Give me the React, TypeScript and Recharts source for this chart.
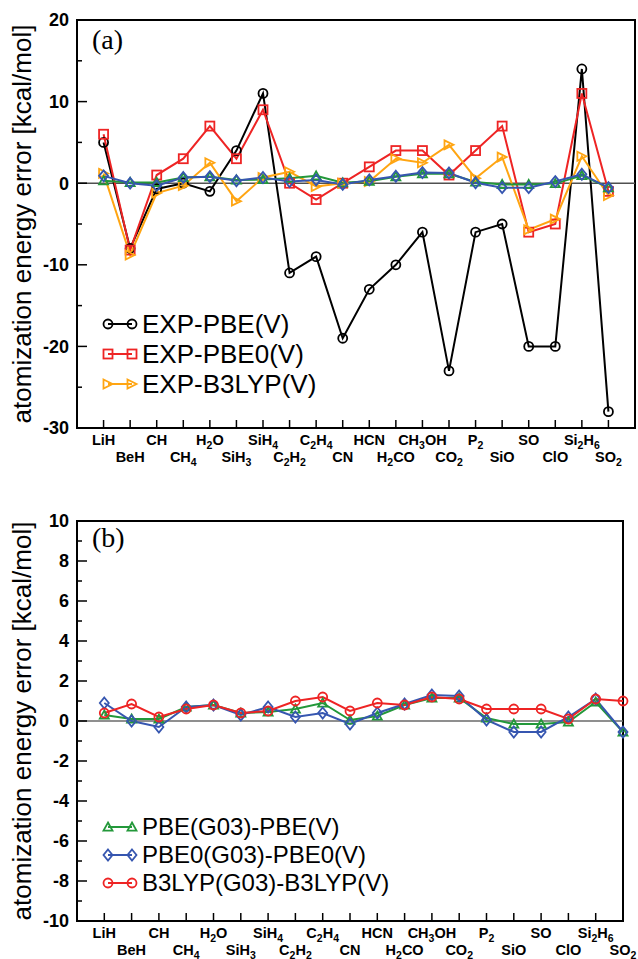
import React from 'react';
import { LineChart, Line, XAxis, YAxis, ReferenceLine, ReferenceArea, Legend } from 'recharts';

const molecules = [
  'LiH', 'BeH', 'CH', 'CH4', 'H2O', 'SiH3', 'SiH4', 'C2H2', 'C2H4', 'CN',
  'HCN', 'H2CO', 'CH3OH', 'CO2', 'P2', 'SiO', 'SO', 'ClO', 'Si2H6', 'SO2',
];

// panel (a): experiment minus VASP results, kcal/mol
const expPbe = [5, -8, -0.7, 0, -1, 4, 11, -11, -9, -19, -13, -10, -6, -23, -6, -5, -20, -20, 14, -28];
const expPbe0 = [6, -8.2, 1, 3, 7, 3, 9, 0, -2, 0, 2, 4, 4, 1, 4, 7, -6, -5, 11, -1];
const expB3lyp = [1.2, -8.8, -1.2, -0.3, 2.5, -2.2, 0.7, 1.4, -0.4, 0, 0.2, 3, 2.5, 4.7, 0.6, 3.2, -5.7, -4.4, 3.3, -1.5];

// panel (b): Gaussian03 minus VASP results, kcal/mol
const pbeG03 = [0.3, 0.1, 0.1, 0.7, 0.8, 0.4, 0.45, 0.6, 0.9, 0.05, 0.25, 0.8, 1.15, 1.15, 0.15, -0.15, -0.15, -0.05, 0.95, -0.55];
const pbe0G03 = [0.9, 0, -0.3, 0.7, 0.8, 0.3, 0.7, 0.2, 0.4, -0.15, 0.4, 0.85, 1.3, 1.25, 0.05, -0.55, -0.55, 0.2, 1.1, -0.55];
const b3lypG03 = [0.4, 0.85, 0.2, 0.6, 0.8, 0.4, 0.5, 1.0, 1.2, 0.5, 0.9, 0.8, 1.2, 1.1, 0.6, 0.6, 0.6, 0.1, 1.1, 1.0];

const topTicks = [-30, -25, -20, -15, -10, -5, 0, 5, 10, 15, 20];
const bottomTicks = [-10, -9, -8, -7, -6, -5, -4, -3, -2, -1, 0, 1, 2, 3, 4, 5, 6, 7, 8, 9, 10];
const moleculeTicks = molecules.map((_, i) => i + 1);

const rows = molecules.map((name, i) => ({
  pos: i + 1,
  name,
  expPbe: expPbe[i],
  expPbe0: expPbe0[i],
  expB3lyp: expB3lyp[i],
  pbeG03: pbeG03[i],
  pbe0G03: pbe0G03[i],
  b3lypG03: b3lypG03[i],
}));

const SANS = '"Liberation Sans", Arial, Helvetica, sans-serif';
const SERIF = '"Liberation Serif", "Times New Roman", serif';

const BLACK = '#000000';
const RED = '#ee2424';
const ORANGE = '#ffa512';
const GREEN = '#23983a';
const BLUE = '#3656b0';

type Shape = 'circle' | 'square' | 'triRight' | 'triUp' | 'diamond';

function Marker({ shape, cx, cy, color, size = 9 }: { shape: Shape; cx: number; cy: number; color: string; size?: number }) {
  const h = size / 2;
  const common = { fill: 'none', stroke: color, strokeWidth: 1.8 };
  if (cx == null || cy == null) return null;
  switch (shape) {
    case 'circle':
      return <circle cx={cx} cy={cy} r={h} {...common} />;
    case 'square':
      return <rect x={cx - h} y={cy - h} width={size} height={size} {...common} />;
    case 'triRight':
      return <polygon points={`${cx - h},${cy - h} ${cx + h},${cy} ${cx - h},${cy + h}`} {...common} />;
    case 'triUp':
      return <polygon points={`${cx},${cy - h} ${cx + h},${cy + h * 0.8} ${cx - h},${cy + h * 0.8}`} {...common} />;
    default:
      return <polygon points={`${cx},${cy - h - 1} ${cx + h},${cy} ${cx},${cy + h + 1} ${cx - h},${cy}`} {...common} />;
  }
}

const makeDot = (shape: Shape, color: string) => (p: any) => (
  <Marker key={`${shape}-${p.index}`} shape={shape} cx={p.cx} cy={p.cy} color={color} />
);

// category tick: short inward mark plus a two-row formula label
function MoleculeTick(props: any) {
  const { x, y, payload } = props;
  const i = payload.value - 1;
  const name = molecules[i];
  if (!name) return <g />;
  const parts = name.match(/\d+|\D+/g) || [];
  let inSub = false;
  return (
    <g>
      <line x1={x} x2={x} y1={y} y2={y - 8} stroke="#000" strokeWidth={1.5} />
      <text
        x={x}
        y={y + 17 + (i % 2) * 17}
        textAnchor="middle"
        fontFamily={SANS}
        fontWeight="bold"
        fontSize={14.5}
        fill="#000"
      >
        {parts.map((part, k) => {
          const isSub = /\d/.test(part);
          const dy = isSub ? (inSub ? 0 : 4) : inSub ? -4 : 0;
          inSub = isSub;
          return (
            <tspan key={k} dy={dy} fontSize={isSub ? 10.5 : 14.5}>
              {part}
            </tspan>
          );
        })}
      </text>
    </g>
  );
}

const makeValueTick = (majorStep: number) => (props: any) => {
  const { x, y, payload } = props;
  const v = payload.value;
  const major = v % majorStep === 0;
  return (
    <g>
      <line x1={x} x2={x + (major ? 10 : 5)} y1={y} y2={y} stroke="#000" strokeWidth={1.5} />
      {major && (
        <text x={x - 8} y={y} dy="0.36em" textAnchor="end" fontFamily={SANS} fontWeight="bold" fontSize={18} fill="#000">
          {v}
        </text>
      )}
    </g>
  );
};

type LegendItem = { label: string; shape: Shape; color: string };

const topLegend: LegendItem[] = [
  { label: 'EXP-PBE(V)', shape: 'circle', color: BLACK },
  { label: 'EXP-PBE0(V)', shape: 'square', color: RED },
  { label: 'EXP-B3LYP(V)', shape: 'triRight', color: ORANGE },
];

const bottomLegend: LegendItem[] = [
  { label: 'PBE(G03)-PBE(V)', shape: 'triUp', color: GREEN },
  { label: 'PBE0(G03)-PBE0(V)', shape: 'diamond', color: BLUE },
  { label: 'B3LYP(G03)-B3LYP(V)', shape: 'circle', color: RED },
];

function LegendBox({ items, rowHeight, fontSize }: { items: LegendItem[]; rowHeight: number; fontSize: number }) {
  const mid = rowHeight / 2;
  return (
    <div style={{ fontFamily: SANS, color: '#000' }}>
      {items.map((it) => (
        <div key={it.label} style={{ display: 'flex', alignItems: 'center', height: rowHeight }}>
          <svg width={40} height={rowHeight} style={{ display: 'block' }}>
            <line x1={8} x2={32} y1={mid} y2={mid} stroke={it.color} strokeWidth={2} />
            <Marker shape={it.shape} cx={8} cy={mid} color={it.color} />
            <Marker shape={it.shape} cx={32} cy={mid} color={it.color} />
          </svg>
          <span style={{ marginLeft: 2, fontSize, lineHeight: `${rowHeight}px`, whiteSpace: 'nowrap' }}>{it.label}</span>
        </div>
      ))}
    </div>
  );
}

function AxisTitle({ cy }: { cy: number }) {
  return (
    <div
      style={{
        position: 'absolute',
        left: 22,
        top: cy,
        transform: 'translate(-50%, -50%) rotate(-90deg)',
        fontFamily: SANS,
        fontSize: 26,
        lineHeight: '30px',
        whiteSpace: 'nowrap',
        color: '#000',
      }}
    >
      atomization energy error [kcal/mol]
    </div>
  );
}

function PanelTag({ text, top }: { text: string; top: number }) {
  return (
    <div style={{ position: 'absolute', left: 92, top, fontFamily: SERIF, fontSize: 28, lineHeight: '28px', color: '#000' }}>
      {text}
    </div>
  );
}

export default function App() {
  return (
    <div style={{ position: 'absolute', left: 0, top: 0, width: 638, height: 959, background: '#fff', overflow: 'hidden' }}>
      <div style={{ position: 'absolute', left: 0, top: 0 }}>
        <LineChart width={638} height={480} data={rows} margin={{ top: 20, right: 3, bottom: 51, left: 76 }}>
          <XAxis
            dataKey="pos"
            type="number"
            domain={[0, 21]}
            ticks={moleculeTicks}
            interval={0}
            height={1}
            tickSize={0}
            tickMargin={0}
            axisLine={false}
            tickLine={false}
            tick={MoleculeTick}
          />
          <YAxis
            type="number"
            domain={[-30, 20]}
            ticks={topTicks}
            interval={0}
            width={1}
            tickSize={0}
            tickMargin={0}
            axisLine={false}
            tickLine={false}
            tick={makeValueTick(10)}
          />
          <ReferenceLine y={0} stroke="#505050" strokeWidth={1.5} />
          <ReferenceArea x1={0} x2={21} y1={-30} y2={20} fill="none" stroke="#000" strokeWidth={2} ifOverflow="visible" />
          <Line dataKey="expPbe" stroke={BLACK} strokeWidth={2} dot={makeDot('circle', BLACK)} isAnimationActive={false} />
          <Line dataKey="expPbe0" stroke={RED} strokeWidth={2} dot={makeDot('square', RED)} isAnimationActive={false} />
          <Line dataKey="expB3lyp" stroke={ORANGE} strokeWidth={2} dot={makeDot('triRight', ORANGE)} isAnimationActive={false} />
          <Line dataKey="pbeG03" stroke={GREEN} strokeWidth={2} dot={makeDot('triUp', GREEN)} isAnimationActive={false} legendType="none" />
          <Line dataKey="pbe0G03" stroke={BLUE} strokeWidth={2} dot={makeDot('diamond', BLUE)} isAnimationActive={false} legendType="none" />
          <Legend
            layout="vertical"
            align="center"
            verticalAlign="middle"
            wrapperStyle={{ left: 100, top: 309, width: 260 }}
            content={() => <LegendBox items={topLegend} rowHeight={30} fontSize={26} />}
          />
        </LineChart>
      </div>

      <div style={{ position: 'absolute', left: 0, top: 480 }}>
        <LineChart width={638} height={479} data={rows} margin={{ top: 41, right: 15, bottom: 37, left: 76 }}>
          <XAxis
            dataKey="pos"
            type="number"
            domain={[0, 20]}
            ticks={moleculeTicks}
            interval={0}
            height={1}
            tickSize={0}
            tickMargin={0}
            axisLine={false}
            tickLine={false}
            tick={MoleculeTick}
          />
          <YAxis
            type="number"
            domain={[-10, 10]}
            ticks={bottomTicks}
            interval={0}
            width={1}
            tickSize={0}
            tickMargin={0}
            axisLine={false}
            tickLine={false}
            tick={makeValueTick(2)}
          />
          <ReferenceLine y={0} stroke="#6a6a6a" strokeWidth={1.5} />
          <ReferenceArea x1={0} x2={20} y1={-10} y2={10} fill="none" stroke="#000" strokeWidth={2} ifOverflow="visible" />
          <Line dataKey="pbeG03" stroke={GREEN} strokeWidth={2} dot={makeDot('triUp', GREEN)} isAnimationActive={false} />
          <Line dataKey="pbe0G03" stroke={BLUE} strokeWidth={2} dot={makeDot('diamond', BLUE)} isAnimationActive={false} />
          <Line dataKey="b3lypG03" stroke={RED} strokeWidth={2} dot={makeDot('circle', RED)} isAnimationActive={false} />
          <Legend
            layout="vertical"
            align="center"
            verticalAlign="middle"
            wrapperStyle={{ left: 100, top: 333, width: 340 }}
            content={() => <LegendBox items={bottomLegend} rowHeight={28} fontSize={24} />}
          />
        </LineChart>
      </div>

      <AxisTitle cy={224} />
      <AxisTitle cy={721} />
      <PanelTag text="(a)" top={26} />
      <PanelTag text="(b)" top={524} />
    </div>
  );
}
